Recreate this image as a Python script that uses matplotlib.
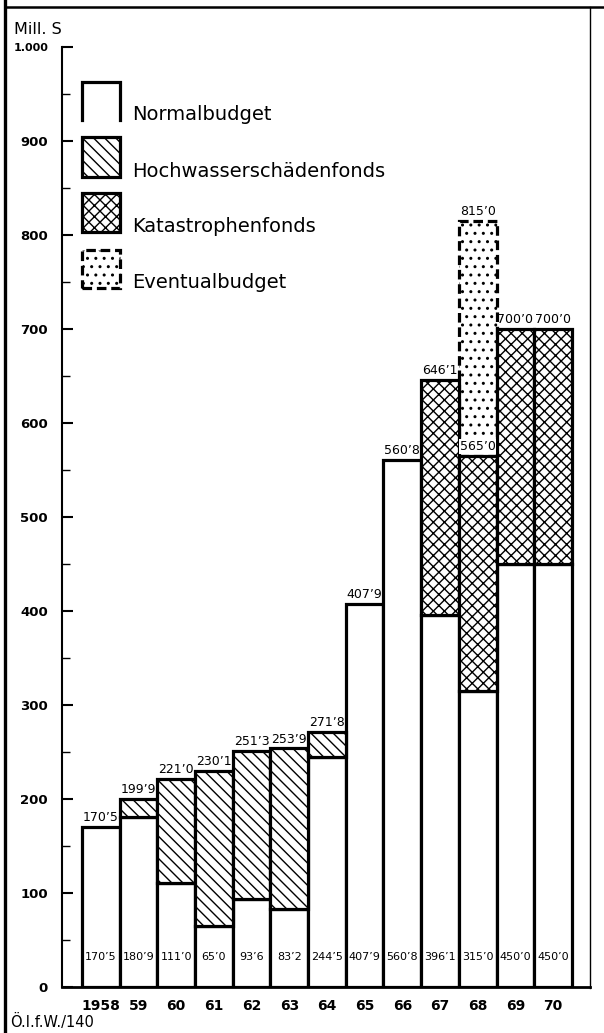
import matplotlib
matplotlib.use("Agg")
import matplotlib.pyplot as plt
import numpy as np
from matplotlib.lines import Line2D
from matplotlib.patches import Rectangle

plt.rcParams['font.family'] = ['DejaVu Sans']
plt.rcParams['hatch.linewidth'] = 1.0

# Budgetmittel in Mill. S
jahre = ['1958', '59', '60', '61', '62', '63', '64', '65', '66', '67', '68', '69', '70']
normal = [170.5, 180.9, 111.0, 65.0, 93.6, 83.2, 244.5, 407.9, 560.8, 396.1, 315.0, 450.0, 450.0]
hochwasser = [0, 19.0, 110.0, 165.1, 157.7, 170.7, 27.3, 0, 0, 0, 0, 0, 0]
katastrophen = [0, 0, 0, 0, 0, 0, 0, 0, 0, 250.0, 250.0, 250.0, 250.0]
eventual = [0, 0, 0, 0, 0, 0, 0, 0, 0, 0, 250.0, 0, 0]

legende = ['Normalbudget', 'Hochwasserschädenfonds', 'Katastrophenfonds', 'Eventualbudget']
y_ticks = [0, 100, 200, 300, 400, 500, 600, 700, 800, 900, 1000]
y_tick_labels = ['0', '100', '200', '300', '400', '500', '600', '700', '800', '900', '1.000']

HATCH_HW = '\\\\\\'
HATCH_KAT = 'xxx'
HATCH_EV = '..'
DASH = (0, (3, 1.5))


def fmt(v):
    return f"{v:.1f}".replace('.', '’')


W, H = 604, 1033
fig = plt.figure(figsize=(W / 100, H / 100), dpi=100)


def fx(x):
    return x / W


def fy(y):
    return 1 - y / H


ax = fig.add_axes([fx(62), fy(987), fx(590) - fx(62), fy(47) - fy(987)])

x = np.arange(len(jahre))
normal = np.array(normal)
hochwasser = np.array(hochwasser)
katastrophen = np.array(katastrophen)
eventual = np.array(eventual)
lw = 2.3

ax.bar(x, normal, width=1.0, facecolor='white', edgecolor='black', linewidth=lw, zorder=2)
m = hochwasser > 0
ax.bar(x[m], hochwasser[m], bottom=normal[m], width=1.0, facecolor='white',
       edgecolor='black', hatch=HATCH_HW, linewidth=lw, zorder=2)
m = katastrophen > 0
ax.bar(x[m], katastrophen[m], bottom=normal[m], width=1.0, facecolor='white',
       edgecolor='black', hatch=HATCH_KAT, linewidth=lw, zorder=2)
m = eventual > 0
ax.bar(x[m], eventual[m], bottom=(normal + katastrophen)[m], width=1.0, facecolor='white',
       edgecolor='black', hatch=HATCH_EV, linewidth=lw, linestyle=DASH, zorder=1)

gesamt = normal + hochwasser + katastrophen + eventual
for i in range(len(jahre)):
    ax.text(x[i], gesamt[i] + 3, fmt(gesamt[i]), ha='center', va='bottom', fontsize=9, zorder=5)
    ax.text(x[i], 32, fmt(normal[i]), ha='center', va='center', fontsize=8, zorder=5)
    if eventual[i] > 0:
        zwischen = normal[i] + katastrophen[i]
        ax.text(x[i], zwischen + 3, fmt(zwischen), ha='center', va='bottom', fontsize=9, zorder=5,
                bbox=dict(facecolor='white', edgecolor='none', pad=0.5))

# Legende im Diagramm
leg_y = [(922, 963), (862, 904), (803, 845), (744, 784)]
leg_hatch = [None, HATCH_HW, HATCH_KAT, HATCH_EV]
for k, (y0, y1) in enumerate(leg_y):
    if k == 0:
        ax.plot([-0.5, -0.5, 0.5, 0.5], [y0, y1, y1, y0], color='black', lw=lw,
                solid_joinstyle='miter', zorder=3)
    else:
        ls = DASH if k == 3 else '-'
        ax.add_patch(Rectangle((-0.5, y0), 1.0, y1 - y0, facecolor='white', edgecolor='black',
                               hatch=leg_hatch[k], linewidth=lw, linestyle=ls, zorder=3))
    ax.text(0.82, y0, legende[k], ha='left', va='baseline', fontsize=14)

ax.set_xlim(-1.03, 12.98)
ax.set_ylim(0, 1000)
ax.set_xticks(x)
ax.set_xticklabels(jahre, fontsize=10, fontweight='bold')
ax.tick_params(axis='x', length=0, pad=9)
ax.set_yticks(y_ticks)
ax.set_yticklabels(y_tick_labels, fontsize=9.5, fontweight='bold')
ax.get_yticklabels()[-1].set_fontsize(8)
ax.set_yticks(np.arange(50, 1000, 100), minor=True)
ax.tick_params(axis='y', which='major', direction='in', length=8, width=1.5, pad=10)
ax.tick_params(axis='y', which='minor', direction='in', length=6, width=1.0)
for s in ['top', 'right']:
    ax.spines[s].set_visible(False)
ax.spines['left'].set_linewidth(1.5)
ax.spines['bottom'].set_linewidth(2)

fig.text(fx(14), fy(30), 'Mill. S', fontsize=11.5, ha='left', va='center')
fig.text(fx(10), fy(1022), 'Ö.I.f.W./140', fontsize=10.5, ha='left', va='center')

# Rahmen
fig.add_artist(Line2D([fx(5), fx(5)], [fy(0), fy(1033)], color='black', lw=2.4))
fig.add_artist(Line2D([fx(5), fx(604)], [fy(7), fy(7)], color='black', lw=1.8))
fig.add_artist(Line2D([fx(590), fx(590)], [fy(7), fy(988)], color='black', lw=1.0))

fig.savefig('out.png', dpi=100, facecolor='white')
